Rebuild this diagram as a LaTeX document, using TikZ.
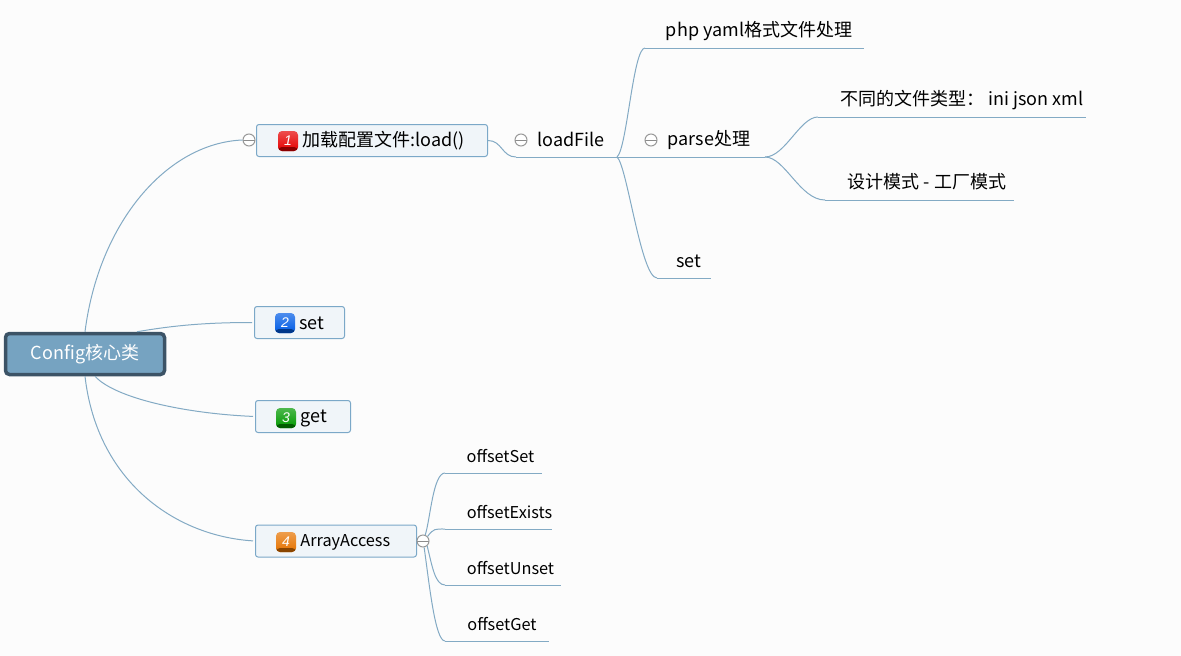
\documentclass[tikz,border=0pt]{standalone}
\usepackage{fontspec}
\setmainfont{Noto Sans CJK SC}
\newfontfamily\badgefont{Liberation Sans}
\definecolor{pagebg}{HTML}{FCFCFC}
\definecolor{linec}{HTML}{83AAC4}
\definecolor{rootfill}{HTML}{76A3C1}
\definecolor{rootdraw}{HTML}{3C5366}
\definecolor{topicfill}{HTML}{F0F5F9}
\definecolor{topicdraw}{HTML}{7BA8C8}
\tikzset{
	branch/.style={linec, line width=1pt},
	rootbox/.style={draw=rootdraw, fill=rootfill, line width=3.5pt, rounded corners=4pt, text=white, font=\fontsize{18}{20}\selectfont, minimum width=159pt, minimum height=41pt, inner sep=0pt},
	topicbox/.style={draw=topicdraw, fill=topicfill, line width=1pt, rounded corners=2.5pt, minimum height=32pt, inner sep=0pt},
	toptext/.style={inner sep=0pt, font=\fontsize{18}{20}\selectfont},
	subtext/.style={inner sep=0pt, font=\fontsize{16.3}{18}\selectfont},
	collapse/.style={circle, draw=gray!80, fill=white, line width=1pt, minimum size=12pt, inner sep=0pt, path picture={\draw[gray!90, line width=1pt] (path picture bounding box.west) -- (path picture bounding box.east);}},
	badge/.style={rounded corners=4pt, minimum size=20pt, inner sep=0pt, text=white, font=\fontsize{14}{14}\badgefont\itshape, top color=#1!70!white, bottom color=#1, path picture={\fill[#1!60!black] ([yshift=4pt]path picture bounding box.south west) rectangle (path picture bounding box.south east);}},
}
\begin{document}
\begin{tikzpicture}[x=1pt, y=-1pt]
	\useasboundingbox[fill=pagebg] (0,0) rectangle (1181,656);

	% 1. nodes of the left side
	\node[rootbox] (root) at (85,354) {Config核心类};
	\node[topicbox, minimum width=231pt] (load) at (372,140.5) {};
	\node[topicbox, minimum width=90pt] (setbox) at (299.5,322.5) {};
	\node[topicbox, minimum width=95pt] (getbox) at (303,416.5) {};
	\node[topicbox, minimum width=161pt] (array) at (336,541) {};

	\node[badge=red!90!black] (badgeA) at (288,141) {1};
	\node[badge=blue!60!cyan!90!black] (badgeB) at (285,323) {2};
	\node[badge=green!60!black] (badgeC) at (286,418) {3};
	\node[badge=orange!90!black] (badgeD) at (286,542) {4};

	\node[toptext, right=4pt] (loadtext) at (badgeA.east) {加载配置文件:load()};
	\node[toptext, right=4pt] (settext) at (badgeB.east) {set};
	\node[toptext, right=4pt] (gettext) at (badgeC.east) {get};
	\node[subtext, right=4pt] (arraytext) at (badgeD.east) {ArrayAccess};

	\node[collapse] (foldA) at (249,140) {};
	\node[collapse] (foldB) at (521,140) {};
	\node[collapse] (foldC) at (651,140) {};
	\node[collapse] (foldD) at (423,541) {};

	% 2. texts above the underlines
	\node[toptext] (loadfile) at (571,139.5) {loadFile};
	\node[toptext] (php) at (759,31) {php yaml格式文件处理};
	\node[toptext] (parse) at (709,140.5) {parse处理};
	\node[toptext] (types) at (962,100.5) {不同的文件类型： ini json xml};
	\node[toptext] (factory) at (927,182) {设计模式 - 工厂模式};
	\node[toptext] (setleaf) at (689,261) {set};
	\node[subtext] (oset) at (500.5,456) {offsetSet};
	\node[subtext] (oexists) at (509.5,512) {offsetExists};
	\node[subtext] (ounset) at (510.5,568) {offsetUnset};
	\node[subtext] (oget) at (502,624) {offsetGet};

	% 3. ends of the underlines
	\coordinate (loadL) at (516,157); \coordinate (loadR) at (617,157);
	\coordinate (phpL) at (645,48); \coordinate (phpR) at (864,48);
	\coordinate (parseR) at (765,157);
	\coordinate (typesL) at (818,117); \coordinate (typesR) at (1086,117);
	\coordinate (factoryL) at (825,200); \coordinate (factoryR) at (1014,200);
	\coordinate (setL) at (657,278); \coordinate (setR) at (711,278);
	\coordinate (osetL) at (445,473); \coordinate (osetR) at (542,473);
	\coordinate (oexistsL) at (445,529); \coordinate (oexistsR) at (552,529);
	\coordinate (ounsetL) at (445,585); \coordinate (ounsetR) at (561,585);
	\coordinate (ogetL) at (445,641); \coordinate (ogetR) at (549,641);

	\draw[branch] (loadL) -- (loadR);
	\draw[branch] (loadR) -- (parseR);
	\draw[branch] (phpL) -- (phpR);
	\draw[branch] (typesL) -- (typesR);
	\draw[branch] (factoryL) -- (factoryR);
	\draw[branch] (setL) -- (setR);
	\draw[branch] (osetL) -- (osetR);
	\draw[branch] (oexistsL) -- (oexistsR);
	\draw[branch] (ounsetL) -- (ounsetR);
	\draw[branch] (ogetL) -- (ogetR);

	% 4. curves
	\draw[branch] (root.north) .. controls +(14,-110) and +(-75,3) .. (foldA.west);
	\draw[branch, shorten >=2pt] ([xshift=52pt]root.north) .. controls +(35,-6) and +(-50,0) .. (setbox.west);
	\draw[branch, shorten >=2pt] ([xshift=10pt]root.south) .. controls +(20,22) and +(-70,-3) .. (getbox.west);
	\draw[branch, shorten >=2pt] (root.south) .. controls +(12,105) and +(-80,-5) .. (array.west);

	\draw[branch] (load.east) .. controls +(14,0) and +(-14,0) .. (loadL);
	\draw[branch] (loadR) .. controls +(10,-8) and +(-12,0) .. (phpL);
	\draw[branch] (loadR) .. controls +(10,8) and +(-16,0) .. (setL);
	\draw[branch] (parseR) .. controls +(20,0) and +(-18,0) .. (typesL);
	\draw[branch] (parseR) .. controls +(20,0) and +(-25,0) .. (factoryL);

	\draw[branch] (foldD.70) .. controls +(5,-15) and +(-12,0) .. (osetL);
	\draw[branch] (foldD.north east) .. controls +(6,-8) and +(-10,0) .. (oexistsL);
	\draw[branch] (foldD.-50) .. controls +(5,20) and +(-10,0) .. (ounsetL);
	\draw[branch] (foldD.-80) .. controls +(5,35) and +(-10,0) .. (ogetL);
\end{tikzpicture}
\end{document}
